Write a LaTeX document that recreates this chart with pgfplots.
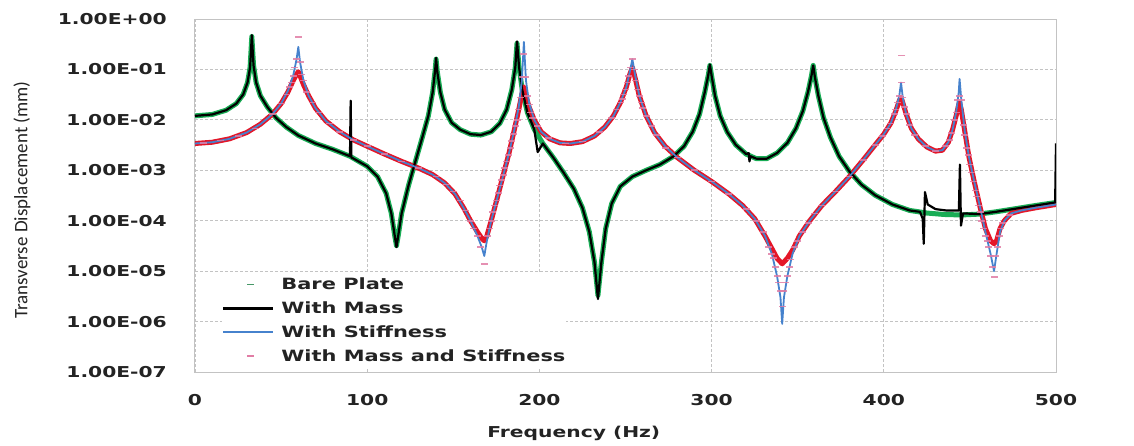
\documentclass[border=0pt]{standalone}
\usepackage{pgfplots}
\pgfplotsset{compat=1.18}
\usepackage{pgfplotstable}
\usepackage{fontspec}
\newfontfamily\wb[FakeStretch=1.35]{DejaVu Sans Bold}
\newfontfamily\calfont{Carlito}
\definecolor{cgreen}{RGB}{25,172,85}
\definecolor{cred}{RGB}{228,22,40}
\definecolor{cblue}{RGB}{70,130,205}
\definecolor{cpink}{RGB}{225,125,165}
\definecolor{cgrid}{RGB}{195,195,195}
\definecolor{ctext}{RGB}{35,35,35}
\newcommand\tlab[1]{\mbox{\wb\fontsize{15}{15}\selectfont\color{ctext}#1}}

\pgfplotstableread{
f v
0 0.012
10 0.0128
18 0.0155
24 0.021
28 0.032
30.5 0.055
32 0.11
33 0.45
34 0.12
35.5 0.055
38 0.03
42 0.018
47 0.011
53 0.0072
60 0.0049
70 0.0034
80 0.0026
90 0.0019
100 0.0012
106 0.00075
111 0.00035
114 0.00014
116 0.00005
117 0.000032
118 0.00005
120 0.00014
124 0.0005
128 0.0015
132 0.0045
135.5 0.012
138 0.035
139.5 0.1
140 0.16
140.7 0.09
142.5 0.035
145 0.016
149 0.0088
154 0.0064
160 0.0052
166 0.005
172 0.0058
177 0.0085
181 0.016
184 0.04
186 0.11
187 0.33
188.2 0.11
190 0.04
193 0.014
197 0.0065
202 0.0034
208 0.0018
214 0.0009
220 0.00043
225 0.00018
229 0.00006
232 0.000015
234 0.0000033
236 0.000015
238.5 0.00007
242 0.00022
247 0.00048
254 0.00075
262 0.001
270 0.0013
278 0.0019
284 0.003
289 0.0058
293 0.013
296 0.035
298 0.075
299 0.12
300 0.075
302 0.03
305 0.012
309 0.0058
314 0.0032
320 0.0021
326 0.0017
332 0.0017
338 0.0022
344 0.0035
349 0.0068
353 0.015
356 0.036
358 0.075
359 0.12
360 0.07
362 0.03
365 0.011
369 0.0045
374 0.0019
380 0.00095
387 0.00052
395 0.00032
405 0.00021
415 0.00016
425 0.000142
435 0.000133
445 0.00013
455 0.000135
465 0.00015
475 0.00017
488 0.0002
500 0.00023
}\bare

\pgfplotstableread{
f v
0 0.012
10 0.0128
18 0.0155
24 0.021
28 0.032
30.5 0.055
32 0.11
33 0.48
34 0.12
35.5 0.055
38 0.03
42 0.018
47 0.011
53 0.0072
60 0.0049
70 0.0034
80 0.0026
90 0.0019
90.4 0.024
90.8 0.0018
100 0.0012
106 0.00075
111 0.00035
114 0.00014
116 0.00005
117 0.00003
118 0.00005
120 0.00014
124 0.0005
128 0.0015
132 0.0045
135.5 0.012
138 0.035
139.5 0.1
140 0.17
140.7 0.09
142.5 0.035
145 0.016
149 0.0088
154 0.0064
160 0.0052
166 0.005
172 0.0058
177 0.0085
181 0.016
184 0.04
186 0.11
187 0.36
188.2 0.11
190 0.04
193 0.014
197 0.0065
199 0.0023
202 0.0034
208 0.0018
214 0.0009
220 0.00043
225 0.00018
229 0.00006
232 0.000015
234 0.0000028
236 0.000015
238.5 0.00007
242 0.00022
247 0.00048
254 0.00075
262 0.001
270 0.0013
278 0.0019
284 0.003
289 0.0058
293 0.013
296 0.035
298 0.075
299 0.125
300 0.075
302 0.03
305 0.012
309 0.0058
314 0.0032
320 0.0021
321.5 0.0022
322 0.0015
322.6 0.0019
326 0.0017
332 0.0017
338 0.0022
344 0.0035
349 0.0068
353 0.015
356 0.036
358 0.075
359 0.12
360 0.07
362 0.03
365 0.011
369 0.0045
374 0.0019
380 0.00095
387 0.00052
395 0.00032
405 0.00021
415 0.00016
421 0.00015
422.6 0.00011
423.2 0.000035
423.9 0.00037
425.5 0.00021
430 0.00017
436 0.00016
443.6 0.00016
444.2 0.0013
444.8 0.00008
446 0.00014
455 0.000135
465 0.00015
475 0.00017
488 0.0002
499.5 0.00023
500 0.0034
}\mass

\pgfplotstableread{
f v
0 0.0034
10 0.0036
20 0.0042
30 0.0056
38 0.0082
45 0.013
50 0.021
54 0.038
57 0.075
59 0.16
60 0.28
61 0.14
63 0.06
66 0.03
70 0.017
76 0.0095
84 0.0058
92 0.004
100 0.003
110 0.0021
120 0.0015
130 0.0011
138 0.00082
145 0.00056
151 0.00034
156 0.00018
160 0.0001
164 0.00005
166.5 0.00003
168 0.00002
169.5 0.00004
172 0.0001
175.5 0.00028
179 0.0008
182.5 0.0023
185.5 0.0065
188 0.018
189.8 0.06
191 0.35
192.2 0.06
194 0.022
197 0.01
201 0.0058
206 0.0042
212 0.0035
218 0.0034
225 0.0037
232 0.0048
238 0.0072
243 0.012
247 0.022
250.5 0.045
252.5 0.09
254 0.16
255.5 0.08
258 0.03
262 0.012
267 0.0055
273 0.003
280 0.0018
290 0.001
300 0.0006
310 0.00034
318 0.0002
325 0.00011
331 0.00005
335 0.000022
338 0.000008
340 0.000003
341 0.0000009
342 0.000003
344 0.000008
347 0.000022
351 0.00005
357 0.0001
364 0.0002
372 0.00038
380 0.00075
388 0.0016
395 0.0032
400 0.0052
404 0.0085
407 0.016
409 0.03
410 0.055
411 0.028
413 0.013
416 0.0068
420 0.0042
425 0.0029
430 0.0024
434 0.0025
437.5 0.0036
440 0.0065
442 0.014
443.5 0.035
444 0.065
445 0.025
447 0.006
449.5 0.0018
452.5 0.0006
456 0.00018
459 0.00006
462 0.000022
464 0.00001
465.5 0.000022
467.5 0.00006
470 0.0001
474 0.00014
480 0.00016
488 0.00018
500 0.00021
}\stiff

\pgfplotstableread{
f v
0 0.0034
10 0.0036
20 0.0042
30 0.0056
38 0.0082
45 0.013
50 0.021
54 0.036
57 0.06
59 0.08
60 0.09
61 0.075
63 0.05
66 0.03
70 0.017
76 0.0095
84 0.0058
92 0.004
100 0.003
110 0.0021
120 0.0015
130 0.0011
138 0.00082
145 0.00056
151 0.00034
156 0.00018
160 0.0001
164 0.00006
166.5 0.000045
168 0.00004
169.5 0.00005
172 0.0001
175.5 0.00028
179 0.0008
182.5 0.0023
185.5 0.0065
188 0.016
189.8 0.032
191 0.045
192.2 0.03
194 0.018
197 0.01
201 0.0058
206 0.0042
212 0.0035
218 0.0034
225 0.0037
232 0.0048
238 0.0072
243 0.012
247 0.022
250.5 0.045
252.5 0.08
254 0.11
255.5 0.07
258 0.03
262 0.012
267 0.0055
273 0.003
280 0.0018
290 0.001
300 0.0006
310 0.00034
318 0.0002
325 0.00011
331 0.00005
335 0.000028
338 0.000018
341 0.000014
344 0.000018
347 0.000026
351 0.00005
357 0.0001
364 0.0002
372 0.00038
380 0.00075
388 0.0016
395 0.0032
400 0.0052
404 0.0085
407 0.015
409 0.024
410 0.028
411 0.022
413 0.013
416 0.0068
420 0.0042
425 0.0029
430 0.0024
434 0.0025
437.5 0.0036
440 0.0065
442 0.012
443.5 0.02
444 0.022
445 0.016
447 0.006
449.5 0.0018
452.5 0.0006
456 0.00018
459 0.00007
462 0.00004
464 0.000035
465.5 0.00004
467.5 0.00007
470 0.0001
474 0.00014
480 0.00016
488 0.00018
500 0.00021
}\redc

\pgfplotstableread{
f v
5 0.0035
15 0.0039
25 0.0048
35 0.0068
45 0.013
50 0.021
53 0.032
55 0.045
56 0.055
57 0.075
58 0.11
59 0.16
60 0.44
61 0.14
62 0.08
63 0.06
65 0.036
68 0.022
72 0.014
78 0.0085
84 0.0058
92 0.004
100 0.003
110 0.0021
120 0.0015
130 0.0011
140 0.00075
146 0.00052
150 0.00038
154 0.00025
157 0.00016
160 0.0001
162 0.00007
164 0.00005
166 0.00003
168 0.000014
170 0.00005
171 0.00007
172 0.0001
173 0.00015
174 0.0002
175 0.00025
176 0.00035
177 0.0005
178 0.00065
179 0.0008
180 0.0011
181 0.0015
182 0.002
183 0.0028
184 0.0038
185 0.0052
186 0.0075
187 0.01
188 0.016
189 0.028
190 0.07
190.7 0.2
192 0.07
193 0.03
194 0.02
195 0.014
196 0.011
199 0.0075
205 0.0044
215 0.0034
225 0.0037
235 0.0058
242 0.011
245 0.016
247 0.022
248 0.026
249 0.032
250 0.04
251 0.055
252 0.075
253 0.11
254 0.16
255 0.1
256 0.06
257 0.04
258 0.03
259 0.022
260 0.017
262 0.012
265 0.0075
268 0.005
273 0.0028
280 0.0018
290 0.001
300 0.0006
310 0.00034
320 0.00017
326 0.0001
330 0.00006
333 0.00003
335 0.000022
336 0.000018
337 0.000012
338 0.000008
339 0.000006
340 0.000004
341 0.000002
342 0.000004
343 0.000006
344 0.000008
345 0.000012
346 0.000017
348 0.00003
350 0.00004
353 0.00006
356 0.00009
360 0.00014
364 0.0002
372 0.00038
380 0.00075
388 0.0016
395 0.0032
399 0.0048
402 0.0068
404 0.0085
406 0.013
407 0.016
408 0.022
409 0.03
410 0.055
410.5 0.19
411 0.028
412 0.018
413 0.013
415 0.008
418 0.005
424 0.003
430 0.0024
436 0.003
438 0.004
439.5 0.0055
441 0.01
442 0.014
443 0.025
444 0.03
445 0.025
446 0.008
447 0.005
448 0.0028
449 0.002
450 0.0013
451 0.0009
452 0.0006
453 0.0004
454 0.0003
455 0.0002
456 0.00015
457 0.0001
458 0.00007
459 0.00005
460 0.00004
461 0.00003
462 0.00002
463 0.000012
464 0.0000076
465 0.00002
466 0.00003
467 0.00005
468 0.00007
469 0.00009
473 0.00013
}\pinkm

\begin{document}
\begin{tikzpicture}
\path[use as bounding box] (-195pt,-74pt) rectangle (939pt,372pt);
\begin{axis}[
  at={(0pt,0pt)}, anchor=south west,
  scale only axis, width=861pt, height=353pt,
  xmin=0, xmax=500, ymode=log, ymin=1e-7, ymax=1,
  xtick={0,100,200,300,400,500},
  xticklabels={\tlab{0},\tlab{100},\tlab{200},\tlab{300},\tlab{400},\tlab{500}},
  ytick={1e-7,1e-6,1e-5,1e-4,1e-3,1e-2,1e-1,1},
  yticklabels={\tlab{1.00E-07},\tlab{1.00E-06},\tlab{1.00E-05},\tlab{1.00E-04},\tlab{1.00E-03},\tlab{1.00E-02},\tlab{1.00E-01},\tlab{1.00E+00}},
  major tick length=0pt, minor tick num=0,
  log basis y=10,
  grid=major, major grid style={densely dashed, cgrid, line width=0.8pt},
  axis line style={cgrid, line width=1pt},
  yticklabel style={anchor=east, inner sep=0pt, xshift=-28pt},
  xticklabel style={anchor=north, inner sep=0pt, yshift=-22pt},
  xlabel={\wb\fontsize{15}{15}\selectfont\color{ctext}Frequency (Hz)},
  xlabel style={at={(axis description cs:0.44,-0.173)}, anchor=center},
  ylabel={\calfont\fontsize{19}{19}\selectfont\color{ctext}Transverse Displacement (mm)},
  ylabel style={at={(axis description cs:-0.201,0.487)}, anchor=center},
  legend style={at={(axis description cs:0.031,0.281)}, anchor=north west, draw=none, fill=white,
    inner xsep=0pt, inner ysep=2pt, row sep=4.5pt,
    font=\wb\fontsize{15.5}{15.5}\selectfont\color{ctext},
    nodes={inner xsep=1pt, inner ysep=3pt},
    /tikz/every odd column/.append style={column sep=6pt}},
  legend cell align=left,
]
\addplot[cgreen, line width=5pt, line join=round,
  legend image code/.code={\draw[cgreen!55!gray, line width=1.5pt] (24pt,0pt) -- (31pt,0pt);}]
  table[x=f,y=v] {\bare};
\addlegendentry{Bare Plate}
\addplot[cred, line width=5pt, line join=round, forget plot] table[x=f,y=v] {\redc};
\addplot[black, line width=2.2pt, line join=round,
  legend image code/.code={\draw[black, line width=2.5pt] (0pt,0pt) -- (50pt,0pt);}]
  table[x=f,y=v] {\mass};
\addlegendentry{With Mass}
\addplot[cblue, line width=1.8pt, line join=round,
  legend image code/.code={\draw[cblue, line width=2.5pt] (0pt,0pt) -- (50pt,0pt);}]
  table[x=f,y=v] {\stiff};
\addlegendentry{With Stiffness}
\addplot[only marks, mark=-, mark size=3.5pt, mark options={cpink, line width=1.6pt, opacity=0.85},
  legend image code/.code={\draw[cpink, line width=1.5pt] (24pt,0pt) -- (31pt,0pt);}]
  table[x=f,y=v] {\pinkm};
\addlegendentry{With Mass and Stiffness}
\end{axis}
\end{tikzpicture}
\end{document}
